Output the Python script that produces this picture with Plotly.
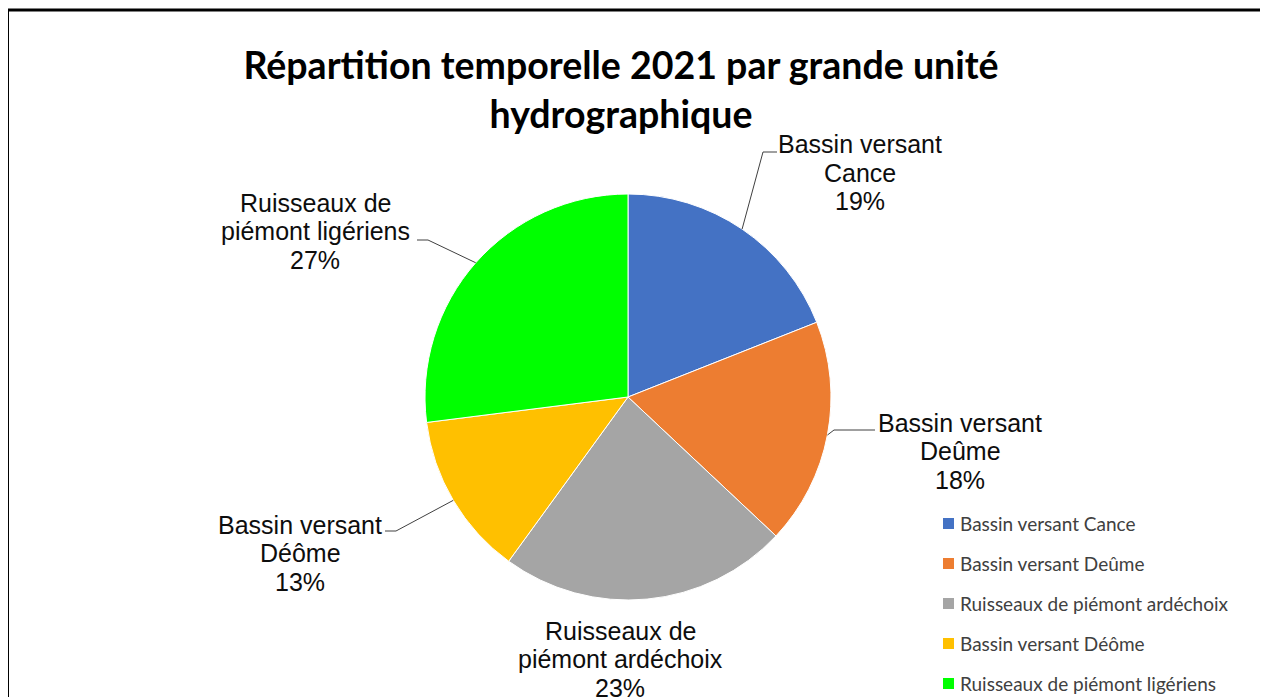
import math

import plotly.graph_objects as go

# ─── Data ─────────────────────────────────────────────────────────────────────

LABELS = [
    "Bassin versant Cance",
    "Bassin versant Deûme",
    "Ruisseaux de piémont ardéchoix",
    "Bassin versant Déôme",
    "Ruisseaux de piémont ligériens",
]
SLICE_TEXT = [
    ["Bassin versant", "Cance"],
    ["Bassin versant", "Deûme"],
    ["Ruisseaux de", "piémont ardéchoix"],
    ["Bassin versant", "Déôme"],
    ["Ruisseaux de", "piémont ligériens"],
]
PERCENTS = [19, 18, 23, 13, 27]
COLORS = ["#4472C4", "#ED7D31", "#A5A5A5", "#FFC000", "#00FF00"]

TITLE = "Répartition temporelle 2021 par grande unité<br>hydrographique"

# ─── Layout (screen pixels; page body adds an 8 px offset) ────────────────────

W, H = 1268, 697
OFF = 8
CX, CY, R = 628, 397, 203

# label centre (middle line) and leader elbow/end points (None = no leader)
LABEL_POS = [(860, 173), (960, 451), (620, 659), (300, 553), (315, 231)]
LINE_GAP = 28.5
LEADERS = [
    [(763, 152), (777, 152)],
    [(834, 430), (875, 430)],
    None,
    [(396, 531), (385, 531)],
    [(428, 240), (417, 240)],
]
LEGEND_X, LEGEND_Y0, LEGEND_STEP = 943, 523.5, 40


def px(x):
    return (x - OFF) / W


def py(y):
    return 1 - (y - OFF) / H


fig = go.Figure(go.Pie(
    labels=LABELS,
    values=PERCENTS,
    sort=False,
    direction="clockwise",
    rotation=0,
    marker=dict(colors=COLORS, line=dict(color="white", width=1)),
    textinfo="none",
    hoverinfo="label+percent",
    showlegend=False,
    domain=dict(x=[px(CX - R), px(CX + R)], y=[py(CY + R), py(CY - R)]),
))

shapes = [
    dict(type="rect", xref="paper", yref="paper",
         x0=px(7.5), x1=px(1265), y0=py(730), y1=py(10),
         line=dict(color="black", width=3)),
]
annotations = []

total = sum(PERCENTS)
cum = 0
for i, v in enumerate(PERCENTS):
    mid = (cum + v / 2) / total * 2 * math.pi
    cum += v
    ex, ey = CX + R * math.sin(mid), CY - R * math.cos(mid)
    if LEADERS[i]:
        pts = [(ex, ey)] + LEADERS[i]
        path = "M " + " L ".join(f"{px(a)},{py(b)}" for a, b in pts)
        shapes.append(dict(type="path", xref="paper", yref="paper", path=path,
                           line=dict(color="#404040", width=1)))
    lx, ly = LABEL_POS[i]
    lines = SLICE_TEXT[i] + [f"{v}%"]
    for k, line in enumerate(lines):
        annotations.append(dict(
            text=line,
            xref="paper", yref="paper", x=px(lx), y=py(ly + (k - 1) * LINE_GAP),
            xanchor="center", yanchor="middle", showarrow=False,
            font=dict(family="Liberation Sans, Arial", size=25, color="#0d0d0d"),
        ))

# custom legend (Excel-like spacing)
for i, (lab, col) in enumerate(zip(LABELS, COLORS)):
    yc = LEGEND_Y0 + i * LEGEND_STEP
    shapes.append(dict(type="rect", xref="paper", yref="paper",
                       x0=px(LEGEND_X), x1=px(LEGEND_X + 11),
                       y0=py(yc + 5.5), y1=py(yc - 5.5),
                       fillcolor=col, line=dict(width=0)))
    annotations.append(dict(
        text=lab, xref="paper", yref="paper",
        x=px(LEGEND_X + 15), y=py(yc),
        xanchor="left", yanchor="middle", showarrow=False,
        font=dict(family="Lato, Open Sans", size=19, color="#404040"),
    ))

fig.update_layout(
    width=W,
    height=H,
    paper_bgcolor="white",
    plot_bgcolor="white",
    margin=dict(l=0, r=0, t=0, b=0),
    title=dict(
        text=f"<b>{TITLE}</b>",
        x=px(621), xanchor="center",
        y=py(79), yanchor="middle",
        font=dict(family="Lato, Open Sans", size=37.5, color="black"),
    ),
    shapes=shapes,
    annotations=annotations,
)

fig.write_html("out.html")
